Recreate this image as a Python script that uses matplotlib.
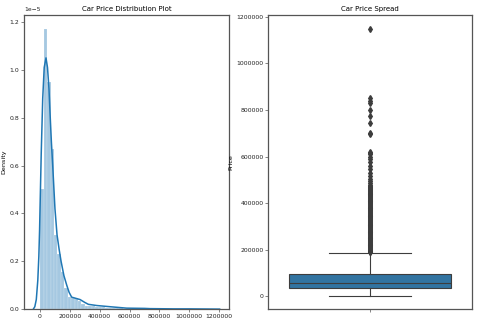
import numpy as np
import matplotlib
matplotlib.use("Agg")
import matplotlib.pyplot as plt

# histogram of car prices (50 bins between min and max price), density x 1e-5
price_min = 2000
price_max = 1150000
hist_density = [0.50, 1.17, 0.95, 0.67, 0.31, 0.23, 0.155, 0.09, 0.05, 0.045,
                0.045, 0.035, 0.02, 0.015, 0.012, 0.012, 0.01, 0.01, 0.008, 0.006,
                0.006, 0.004, 0.004, 0.004, 0.002, 0.002, 0.0, 0.0, 0.0, 0.003,
                0.002, 0.001, 0.001, 0.001, 0.0, 0.001, 0.001, 0.0, 0.0, 0.0,
                0.0, 0.0, 0.0, 0.0, 0.0, 0.0, 0.0, 0.0, 0.0, 0.0005]

# kde curve
kde_x = [-45000, -35000, -25000, -15000, -8000, -3000, 0, 8000, 18000, 28000,
         40000, 50000, 60000, 67000, 76000, 85000, 100000, 114000, 128000, 141000,
         160000, 179000, 195000, 212000, 240000, 268000, 300000, 324000, 380000,
         469000, 581000, 700000, 737000, 900000, 1000000, 1100000, 1204000]
kde_y = [0.0, 0.01, 0.04, 0.12, 0.22, 0.33, 0.42, 0.65, 0.88, 1.01,
         1.05, 1.01, 0.92, 0.82, 0.70, 0.60, 0.42, 0.31, 0.25, 0.20,
         0.14, 0.10, 0.07, 0.05, 0.045, 0.04, 0.028, 0.02, 0.015,
         0.01, 0.004, 0.003, 0.002, 0.001, 0.001, 0.0005, 0.0]

# box plot summary of price
box_q1 = 35000
box_median = 58000
box_q3 = 97000
whisker_low = 2000
whisker_high = 186500
fliers = [188000, 192000, 195000, 199000, 203000, 206000, 210000, 214000, 218000, 221000,
          225000, 229000, 233000, 236000, 240000, 244000, 248000, 252000, 255000, 259000,
          263000, 267000, 270000, 274000, 278000, 282000, 286000, 289000, 293000, 297000,
          301000, 305000, 308000, 312000, 316000, 320000, 324000, 327000, 331000, 335000,
          339000, 343000, 346000, 350000, 354000, 358000, 362000, 365000, 369000, 373000,
          377000, 381000, 384000, 388000, 392000, 396000, 400000, 403000, 407000, 411000,
          415000, 419000, 422000, 426000, 430000, 434000, 438000, 441000, 445000, 449000,
          453000, 457000, 460000, 464000, 468000, 472000, 476000, 485000, 495000, 505000,
          515000, 530000, 545000, 560000, 575000, 590000, 600000, 610000, 615000, 620000,
          695000, 702000, 745000, 775000, 800000, 830000, 840000, 850000, 1150000]

plt.rcParams['font.family'] = 'DejaVu Sans'
plt.rcParams['axes.edgecolor'] = '#555555'
plt.rcParams['xtick.color'] = '#555555'
plt.rcParams['ytick.color'] = '#555555'
plt.rcParams['xtick.labelcolor'] = '#222222'
plt.rcParams['ytick.labelcolor'] = '#222222'

fig = plt.figure(figsize=(4.8, 3.23), dpi=100)
ax1 = fig.add_axes([0.05, 0.043, 0.427, 0.91])
ax2 = fig.add_axes([0.559, 0.043, 0.424, 0.91])

# distribution plot
edges = np.linspace(price_min, price_max, len(hist_density) + 1)
heights = np.array(hist_density) * 1e-5
ax1.bar(edges[:-1], heights, width=np.diff(edges), align='edge',
        color='#1f77b4', alpha=0.4, edgecolor='white', linewidth=0.3)
ax1.plot(kde_x, np.array(kde_y) * 1e-5, color='#1f77b4', lw=1.1)
ax1.set_ylabel('Density', fontsize=4.6, labelpad=2)
ax1.set_title('Car Price Distribution Plot', fontsize=5, pad=3)
ax1.ticklabel_format(style='plain', axis='x')
ax1.set_xticks([0, 200000, 400000, 600000, 800000, 1000000, 1200000])
ax1.tick_params(labelsize=4.4, length=2, width=0.5, pad=1.5)
ax1.yaxis.get_offset_text().set_fontsize(4.3)

# box plot
stats = [{'med': box_median, 'q1': box_q1, 'q3': box_q3,
          'whislo': whisker_low, 'whishi': whisker_high, 'fliers': fliers}]
ax2.bxp(stats, positions=[0], widths=0.8, patch_artist=True,
        boxprops=dict(facecolor='#3274a1', edgecolor='#3d3d3d', linewidth=0.8),
        medianprops=dict(color='#3d3d3d', linewidth=0.8),
        whiskerprops=dict(color='#3d3d3d', linewidth=0.8),
        capprops=dict(color='#3d3d3d', linewidth=0.8),
        flierprops=dict(marker='d', markerfacecolor='#3d3d3d', markeredgecolor='#3d3d3d',
                        markersize=3.0, linestyle='none'))
ax2.set_xlim(-0.5, 0.5)
ax2.set_xticks([0])
ax2.set_xticklabels([''])
ax2.set_ylabel('Price', fontsize=4.6, labelpad=2)
ax2.set_title('Car Price Spread', fontsize=5, pad=3)
ax2.ticklabel_format(style='plain', axis='y')
ax2.set_yticks([0, 200000, 400000, 600000, 800000, 1000000, 1200000])
ax2.tick_params(labelsize=4.4, length=2, width=0.5, pad=1.5)

for ax in (ax1, ax2):
    for s in ax.spines.values():
        s.set_linewidth(0.9)

fig.savefig('out.png', dpi=100)
